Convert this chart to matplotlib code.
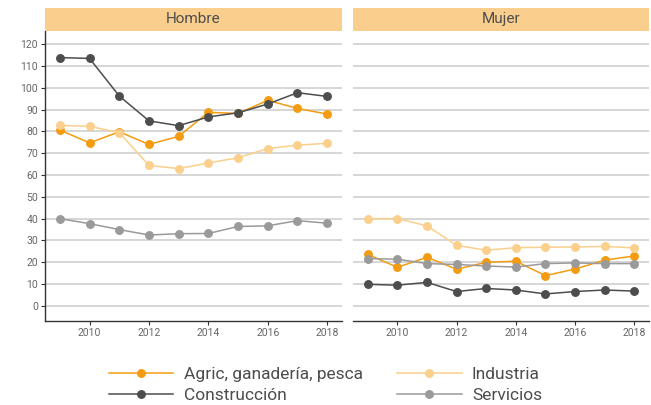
import matplotlib
matplotlib.use("Agg")
import matplotlib.pyplot as plt
from matplotlib.patches import Rectangle

years = [2009, 2010, 2011, 2012, 2013, 2014, 2015, 2016, 2017, 2018]
panels = ["Hombre", "Mujer"]
series = ["Agric, ganadería, pesca", "Industria", "Construcción", "Servicios"]

hombre_agric = [80.6, 74.7, 79.8, 74.0, 77.7, 88.7, 88.2, 94.2, 90.5, 87.9]
hombre_industria = [82.7, 82.3, 79.4, 64.4, 62.9, 65.5, 67.9, 72.1, 73.7, 74.5]
hombre_construccion = [113.8, 113.4, 96.2, 84.8, 82.6, 86.6, 88.5, 92.5, 97.7, 96.0]
hombre_servicios = [40.0, 37.7, 35.0, 32.5, 33.1, 33.2, 36.4, 36.7, 39.1, 37.9]

mujer_agric = [23.6, 17.7, 22.3, 16.8, 20.0, 20.5, 13.9, 16.9, 21.0, 22.9]
mujer_industria = [40.0, 40.0, 36.7, 27.8, 25.5, 26.7, 26.9, 27.0, 27.3, 26.6]
mujer_construccion = [9.9, 9.5, 10.8, 6.6, 8.0, 7.3, 5.5, 6.6, 7.3, 6.8]
mujer_servicios = [21.7, 21.4, 19.4, 19.0, 18.3, 17.8, 19.4, 19.7, 19.4, 19.4]

data = {
    "Hombre": [hombre_agric, hombre_industria, hombre_construccion, hombre_servicios],
    "Mujer": [mujer_agric, mujer_industria, mujer_construccion, mujer_servicios],
}
colors = ["#F39C12", "#FBCF8C", "#4D4D4D", "#9A9A9A"]
strip_color = "#FACF8D"
yticks = list(range(0, 121, 10))
xticks = [2010, 2012, 2014, 2016, 2018]

plt.rcParams['font.family'] = ['Roboto', 'DejaVu Sans']
fig = plt.figure(figsize=(6.51, 4.05), dpi=100)

W, H = 651, 405
boxes = [(45, 342), (353, 649)]
top_px, bot_px = 30.5, 321
strip_top = 8

axes = []
for i, (name, (l, r)) in enumerate(zip(panels, boxes)):
    ax = fig.add_axes([l / W, 1 - bot_px / H, (r - l) / W, (bot_px - top_px) / H])
    axes.append(ax)
    ax.set_xlim(2008.5, 2018.5)
    ax.set_ylim(-6.9, 126.2)
    ax.set_yticks(yticks)
    ax.set_xticks(xticks)
    ax.grid(axis='y', color='#D3D3D3', linewidth=1.3)
    ax.set_axisbelow(True)
    for s in ['top', 'right']:
        ax.spines[s].set_visible(False)
    ax.spines['bottom'].set_color('#333333')
    ax.spines['bottom'].set_linewidth(1.0)
    ax.tick_params(axis='x', colors='#333333', labelcolor='#666666', labelsize=7.5, length=3, width=0.8, pad=2)
    if i == 0:
        ax.spines['left'].set_color('#333333')
        ax.spines['left'].set_linewidth(1.0)
        ax.tick_params(axis='y', colors='#333333', labelcolor='#666666', labelsize=7.5, length=3, width=0.8, pad=2)
    else:
        ax.spines['left'].set_visible(False)
        ax.tick_params(axis='y', left=False, labelleft=False)
    for vals, c, lab in zip(data[name], colors, series):
        ax.plot(years, vals, color=c, linewidth=1.1, marker='o', markersize=5.4,
                label=lab, clip_on=False)
    # strip
    sax = fig.add_axes([l / W, 1 - top_px / H, (r - l) / W, (top_px - strip_top) / H])
    sax.set_xlim(0, 1); sax.set_ylim(0, 1)
    sax.add_patch(Rectangle((0, 0), 1, 1, color=strip_color, transform=sax.transAxes))
    sax.axis('off')
    sax.text(0.5, 0.5, name, ha='center', va='center', fontsize=11, color='#4D4D4D')

handles, labels = axes[0].get_legend_handles_labels()
order = [0, 2, 1, 3]
leg = fig.legend([handles[k] for k in order], [labels[k] for k in order],
                 loc='center', bbox_to_anchor=(0.5, 1 - 385 / H), ncol=2,
                 frameon=False, fontsize=12.5, handlelength=3.7, columnspacing=2.0,
                 labelspacing=0.3, handletextpad=0.6, borderpad=0.2)
for t in leg.get_texts():
    t.set_color('#4D4D4D')

fig.savefig("out.png", dpi=100)
